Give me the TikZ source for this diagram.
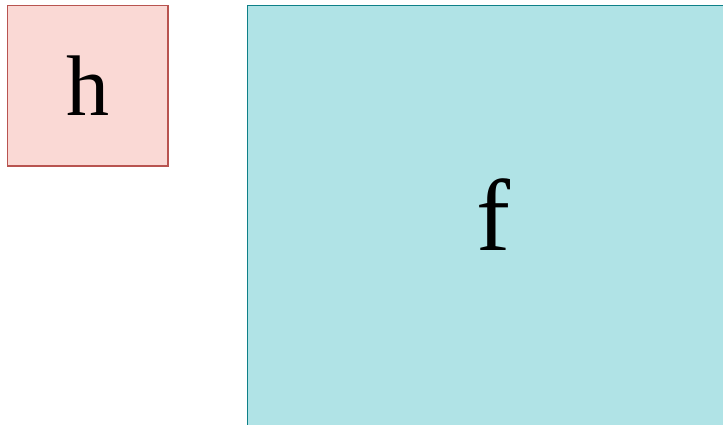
\documentclass[tikz,border=0pt]{standalone}
\usepackage{fontspec}
\setmainfont{Liberation Serif}
\definecolor{hfill}{HTML}{FAD9D5}
\definecolor{hdraw}{HTML}{B85450}
\definecolor{ffill}{HTML}{B0E3E6}
\definecolor{fdraw}{HTML}{0E8088}
\tikzset{
  boxh/.style={fill=hfill, draw=hdraw, line width=1.3pt},
  boxf/.style={fill=ffill, draw=fdraw, line width=1.3pt},
  lbl/.style={anchor=base, inner sep=0pt, text=black}
}
\begin{document}
\begin{tikzpicture}[x=1pt,y=1pt]
\useasboundingbox (0,0) rectangle (723,425);
\clip (0,0) rectangle (723,425);
\fill[white] (0,0) rectangle (723,425);
\draw[boxh] (7.5,419.5) rectangle (168,259) node[pos=0.5, inner sep=0pt] (hbox) {};
\draw[boxf] (247.5,419.5) rectangle (760,-40) node[pos=0.5, inner sep=0pt] (fbox) {};
\node[lbl, font=\fontsize{86}{86}\selectfont] (h) at (87.5,309) {h};
\node[lbl, font=\fontsize{102}{102}\selectfont] (f) at (493,174) {f};
\end{tikzpicture}
\end{document}
